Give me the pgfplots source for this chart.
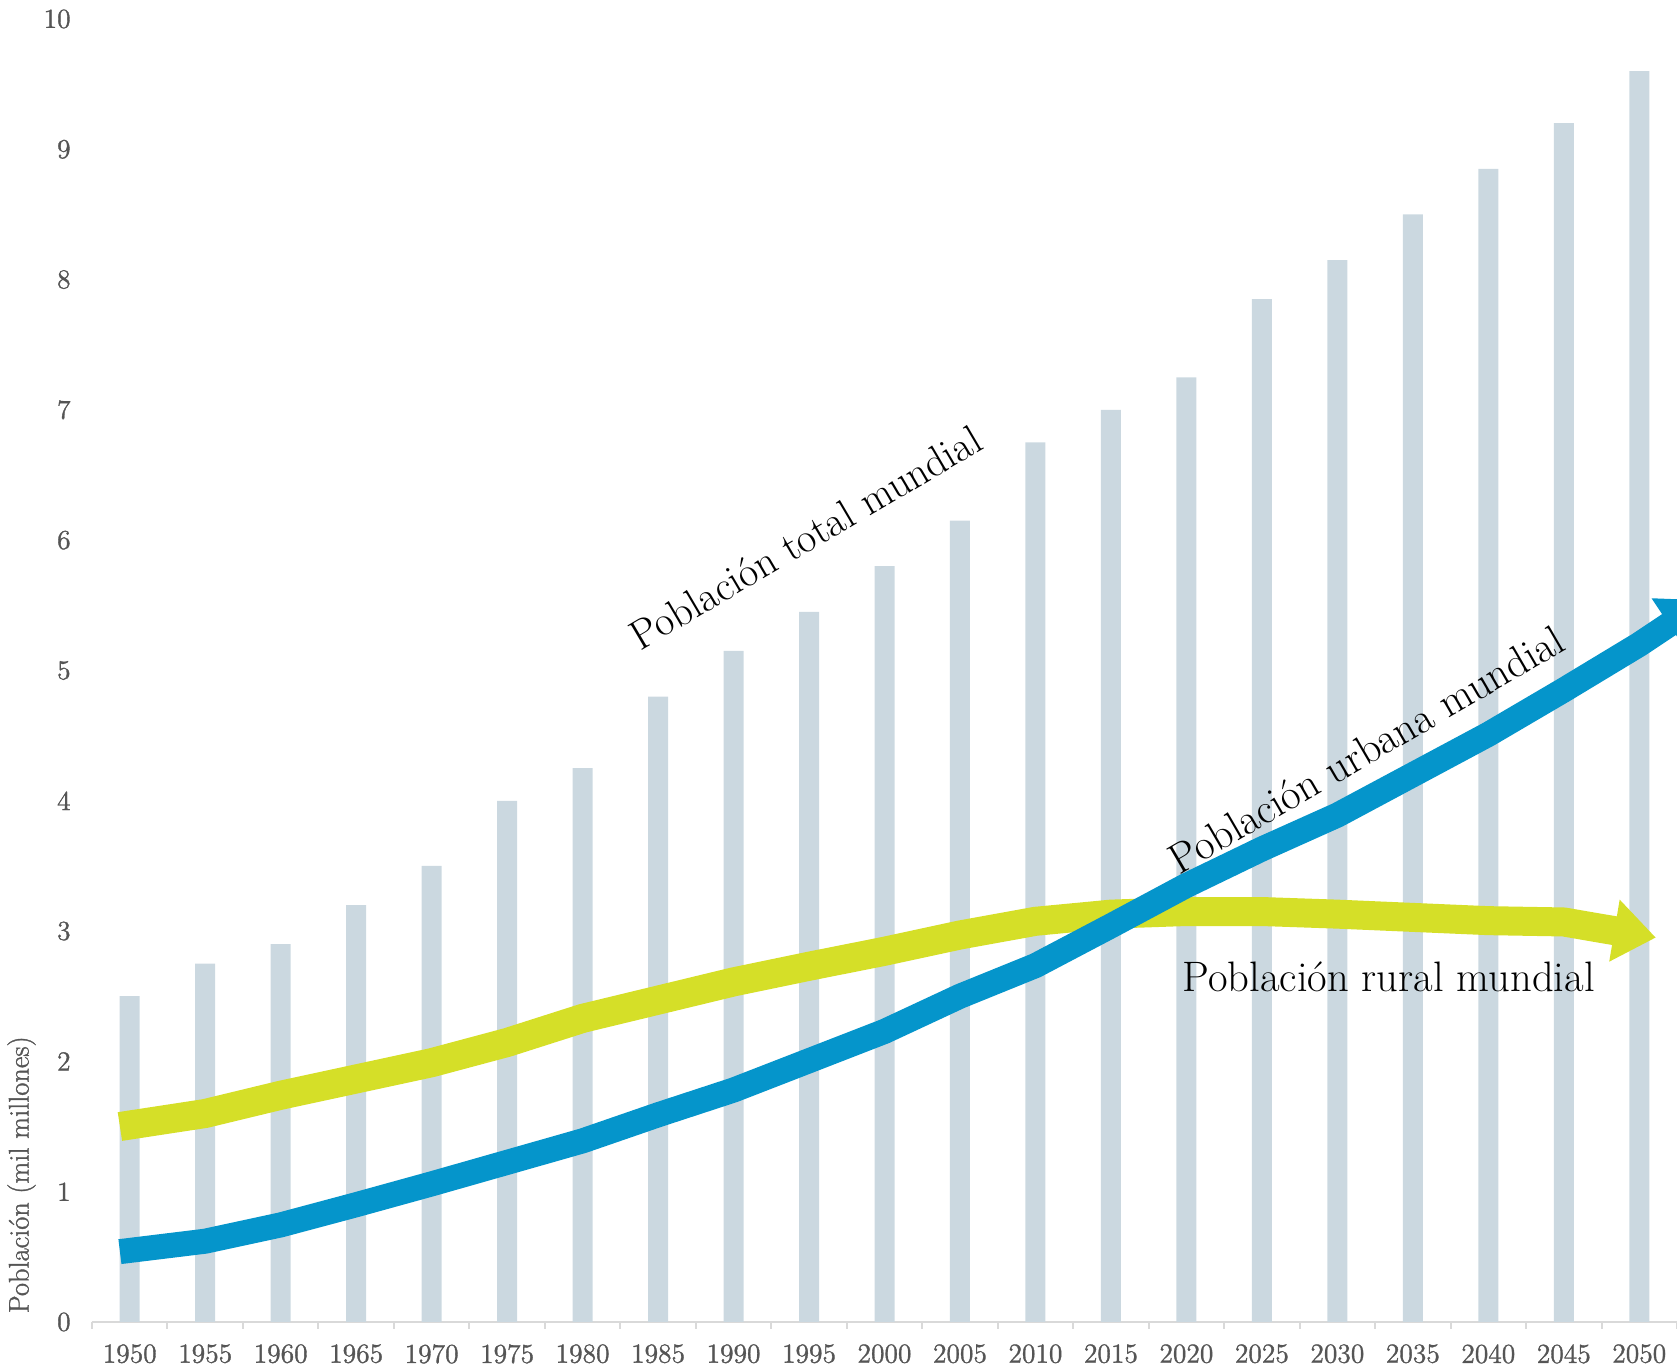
\documentclass[border=0pt]{standalone}
\usepackage{fontspec}
\usepackage{pgfplots}
\pgfplotsset{compat=1.18}
\usetikzlibrary{arrows.meta}

\newfontfamily\tickfont[FakeBold=1.2]{Latin Modern Roman}

\definecolor{barcol}{RGB}{203,216,224}
\definecolor{urbancol}{RGB}{5,149,203}
\definecolor{ruralcol}{RGB}{213,223,40}
\definecolor{tickgray}{RGB}{85,85,85}
\definecolor{axisgray}{RGB}{217,217,217}

\begin{document}
\begin{tikzpicture}
\begin{axis}[
  scale only axis, width=792.5pt, height=651.5pt,
  xmin=1947.5, xmax=2052.5, ymin=0, ymax=10,
  axis x line*=bottom, axis y line*=left,
  y axis line style={draw=none},
  x axis line style={draw=axisgray, line width=1pt, -},
  xtick={1950,1955,...,2050},
  minor xtick={1947.5,1952.5,...,2052.5},
  ytick={0,1,...,10},
  major tick length=0pt, minor tick length=3.5pt, tick align=outside,
  minor tick style={draw=axisgray, line width=1pt},
  ytick style={draw=none},
  /pgf/number format/assume math mode=true,
  /pgf/number format/1000 sep={},
  tick label style={font=\tickfont\fontsize{13.75}{16}\selectfont, text=tickgray},
  xticklabel style={anchor=north, inner sep=0pt, yshift=-11pt},
  yticklabel style={anchor=east, inner sep=0pt, xshift=-10.5pt},
  clip mode=individual,
]
% total world population (bars)
\addplot[ybar, bar width=10pt, bar shift=0pt, fill=barcol, draw=none] coordinates {
  (1950,2.5) (1955,2.75) (1960,2.9) (1965,3.2) (1970,3.5) (1975,4.0)
  (1980,4.25) (1985,4.8) (1990,5.15) (1995,5.45) (2000,5.8) (2005,6.15)
  (2010,6.75) (2015,7.0) (2020,7.25) (2025,7.85) (2030,8.15) (2035,8.5)
  (2040,8.85) (2045,9.2) (2050,9.6)
};
% rural population
\addplot[draw=ruralcol, line width=14.5pt, line join=round,
  -{Triangle[length=21pt,width=30pt]}] coordinates {
  (1949.35,1.50) (1955,1.60) (1960,1.74) (1965,1.865) (1970,1.99)
  (1975,2.145) (1980,2.33) (1985,2.47) (1990,2.61) (1995,2.73)
  (2000,2.845) (2005,2.97) (2010,3.075) (2015,3.13) (2020,3.15)
  (2025,3.15) (2030,3.13) (2035,3.105) (2040,3.08) (2045,3.07)
  (2047.5,3.02) (2051.1,2.95)
};
% urban population
\addplot[draw=urbancol, line width=12.5pt, line join=round,
  -{Triangle[length=22pt,width=30pt]}] coordinates {
  (1949.35,0.54) (1955,0.62) (1960,0.745) (1965,0.90) (1970,1.06)
  (1975,1.225) (1980,1.39) (1985,1.59) (1990,1.78) (1995,2.005)
  (2000,2.23) (2005,2.50) (2010,2.735) (2015,3.04) (2020,3.35)
  (2025,3.63) (2030,3.89) (2035,4.20) (2040,4.51) (2045,4.85)
  (2050,5.20) (2054.4,5.54)
};
\node[rotate=30.5, anchor=base, font=\fontsize{20.8}{25}\selectfont]
  at (axis cs:1995.25,5.925) {Población total mundial};
\node[rotate=30.2, anchor=base, font=\fontsize{21.3}{25}\selectfont]
  at (axis cs:2032.4,4.294) {Población urbana mundial};
\node[anchor=base, font=\fontsize{21.3}{25}\selectfont]
  at (axis cs:2033.4,2.535) {Población rural mundial};
\node[rotate=90, anchor=base, font=\tickfont\fontsize{14.2}{17}\selectfont, text=tickgray]
  at (axis cs:1943.3,1.13) {Población (mil millones)};
\end{axis}
\pgfresetboundingbox
\path[use as bounding box] (-46pt,-23pt) rectangle (792.5pt,661pt);
\end{tikzpicture}
\end{document}
